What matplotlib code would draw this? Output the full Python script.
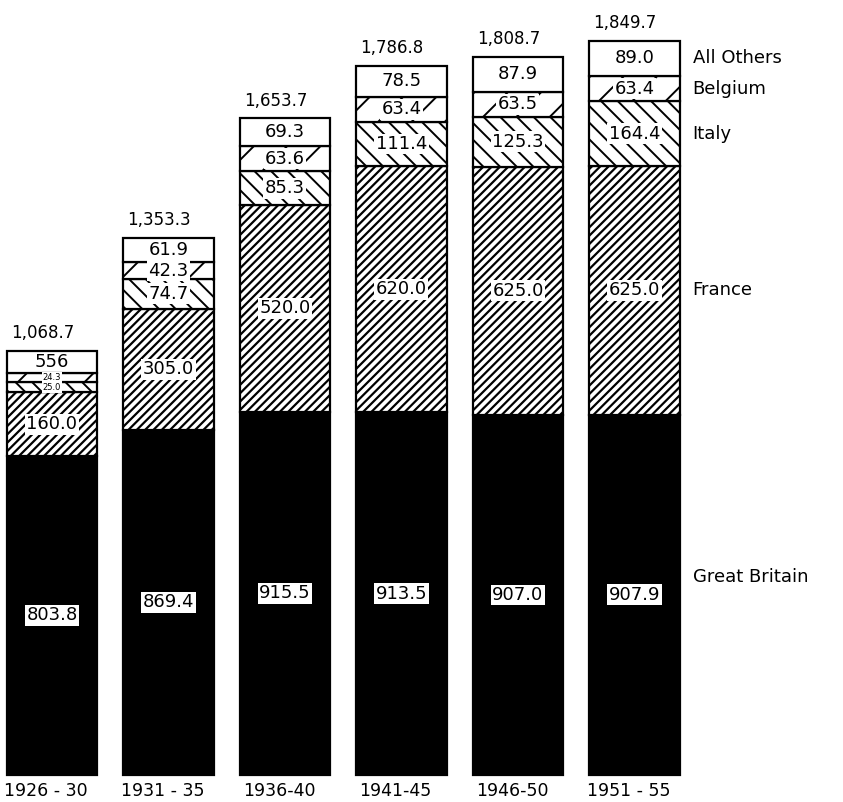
import matplotlib
matplotlib.use("Agg")
import matplotlib.pyplot as plt

periods = ["1926 - 30", "1931 - 35", "1936-40", "1941-45", "1946-50", "1951 - 55"]
great_britain = [803.8, 869.4, 915.5, 913.5, 907.0, 907.9]
france = [160.0, 305.0, 520.0, 620.0, 625.0, 625.0]
italy = [25.0, 74.7, 85.3, 111.4, 125.3, 164.4]
belgium = [24.3, 42.3, 63.6, 63.4, 63.5, 63.4]
all_others = [55.6, 61.9, 69.3, 78.5, 87.9, 89.0]
totals = [1068.7, 1353.3, 1653.7, 1786.8, 1808.7, 1849.7]
others_text = ["556", "61.9", "69.3", "78.5", "87.9", "89.0"]
series_names = ["Great Britain", "France", "Italy", "Belgium", "All Others"]

plt.rcParams["hatch.linewidth"] = 1.3
plt.rcParams["font.family"] = ["DejaVu Sans"]

fig = plt.figure(figsize=(8.43, 8.02), dpi=100)
ax = fig.add_axes([0, 0, 1, 1])
ax.set_xlim(-0.446, 6.79)
ax.set_ylim(-68, 1952)
ax.axis("off")

x = list(range(len(periods)))
width = 0.78
series = [great_britain, france, italy, belgium, all_others]
styles = [
    dict(facecolor="black", hatch=None),
    dict(facecolor="white", hatch="////"),
    dict(facecolor="white", hatch="\\\\"),
    dict(facecolor="white", hatch="/"),
    dict(facecolor="white", hatch=None),
]
hatch_lw = [1.0, 1.6, 1.4, 1.4, 1.0]
bottoms = [0.0] * len(periods)
box = dict(boxstyle="square,pad=0.08", fc="white", ec="none")
for k, (vals, st) in enumerate(zip(series, styles)):
    bars = ax.bar(x, vals, width=width, bottom=bottoms, edgecolor="black",
                  linewidth=1.6, **st)
    for b in bars:
        if hasattr(b, "set_hatch_linewidth"):
            b.set_hatch_linewidth(hatch_lw[k])
    for i, (b, v) in enumerate(zip(bottoms, vals)):
        mid = b + v / 2
        if k == 4:
            txt = others_text[i]
        else:
            txt = f"{v:.1f}"
        fs = 13
        if i == 0 and k in (2, 3):
            fs = 6
        if k == 4:
            ax.text(i, mid, txt, ha="center", va="center", fontsize=fs)
        else:
            ax.text(i, mid, txt, ha="center", va="center", fontsize=fs,
                    bbox=box)
    bottoms = [b + v for b, v in zip(bottoms, vals)]

for i, t in enumerate(totals):
    ax.text(i - 0.08, bottoms[i] + 22, f"{t:,.1f}", ha="center", va="bottom",
            fontsize=12)

for i, p in enumerate(periods):
    ax.text(i - 0.05, -40, p, ha="center", va="center", fontsize=12.5)

# series names beside last bar
last = len(periods) - 1
cum = 0.0
label_y = []
for vals in series:
    label_y.append(cum + vals[last] / 2)
    cum += vals[last]
label_y[0] += 45
for name, yv in zip(series_names, label_y):
    ax.text(last + 0.5, yv, name, ha="left", va="center", fontsize=13)

fig.savefig("out.png", dpi=100)
